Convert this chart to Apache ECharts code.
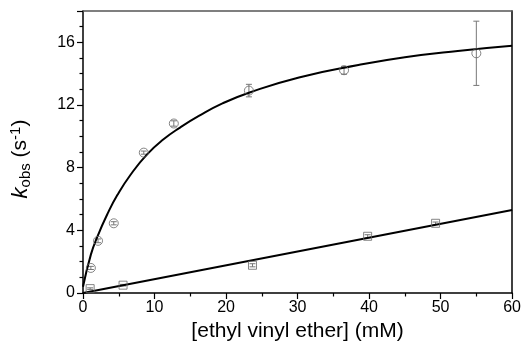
<!DOCTYPE html>
<html><head><meta charset="utf-8">
<script src="https://cdn.jsdelivr.net/npm/echarts@6/dist/echarts.min.js"></script>
<style>html,body{margin:0;padding:0;background:#fff}#c{width:524px;height:347px}</style>
</head><body><div id="c"></div>
<script>
// circles: [x, y, err]
const circlePts = [[1.1,1.6,0.1],[2.1,3.33,0.12],[4.3,4.45,0.1],[8.5,8.96,0.1],[12.7,10.82,0.17],[23.2,12.92,0.4],[36.5,14.22,0.25],[55.0,15.3,2.05]];
// squares: [x, y, err]
const squarePts = [[1.0,0.28,0.05],[5.6,0.5,0.05],[23.7,1.77,0.1],[39.8,3.62,0.1],[49.3,4.45,0.08]];
// fitted curve
const curvePts = [[0,0.4],[1.1,2.45],[2.03,3.62],[3.42,5.05],[4.8,6.25],[6.65,7.55],[8.96,8.85],[11.26,9.81],[13.57,10.56],[16.2,11.3],[19.5,12.1],[23.3,12.8],[30.2,13.76],[38.5,14.55],[45,15.05],[52.4,15.45],[60,15.78]];
// linear fit
const linePts = [[0,0],[60,5.3]];
const xTicks = {min:0,max:60,interval:10};
const yTicks = {min:0,max:18,interval:4};

const chart = echarts.init(document.getElementById('c'));
const font = 'Liberation Sans, Arial, sans-serif';
function errSeries(data){
  return {type:'custom', data:data, z:3, renderItem:function(params, api){
    const x=api.value(0), y=api.value(1), e=api.value(2);
    const top=api.coord([x,y+e]), bot=api.coord([x,y-e]);
    const w=3;
    return {type:'group', children:[
      {type:'line', shape:{x1:top[0],y1:top[1],x2:bot[0],y2:bot[1]}, style:{stroke:'#777',lineWidth:1}},
      {type:'line', shape:{x1:top[0]-w,y1:top[1],x2:top[0]+w,y2:top[1]}, style:{stroke:'#777',lineWidth:1}},
      {type:'line', shape:{x1:bot[0]-w,y1:bot[1],x2:bot[0]+w,y2:bot[1]}, style:{stroke:'#777',lineWidth:1}}
    ]};
  }, encode:{x:0,y:1}};
}
chart.setOption({
  animation:false,
  grid:{left:82,right:9,top:11,bottom:54},
  xAxis:[{type:'value',min:xTicks.min,max:xTicks.max,interval:xTicks.interval,
    name:'[ethyl vinyl ether] (mM)',nameLocation:'middle',nameGap:22,
    nameTextStyle:{fontSize:21,color:'#000',fontFamily:font,verticalAlign:'top'},
    axisLine:{lineStyle:{color:'#000',width:1.5}},
    axisTick:{inside:false,length:6,lineStyle:{color:'#000',width:1.2}},
    minorTick:{show:true,splitNumber:2,length:3.5,lineStyle:{color:'#000',width:1.2}},
    axisLabel:{fontSize:16,color:'#000',fontFamily:font,margin:7},
    splitLine:{show:false}},
   {type:'value',position:'top',min:0,max:60,axisLine:{onZero:false,lineStyle:{color:'#555',width:1.5}},axisTick:{show:false},axisLabel:{show:false},splitLine:{show:false}}],
  yAxis:[{type:'value',min:yTicks.min,max:yTicks.max,interval:yTicks.interval,
    name:'{i|k}{sub|obs} (s{sup|-1})',nameLocation:'middle',nameGap:50,nameRotate:90,
    nameTextStyle:{fontSize:21,color:'#000',fontFamily:font,padding:[0,14,0,0],rich:{
      i:{fontSize:22,fontStyle:'italic',fontFamily:font,color:'#000'},
      sub:{fontSize:15,fontFamily:font,color:'#000',verticalAlign:'bottom',padding:[10,0,0,0]},
      sup:{fontSize:15,fontFamily:font,color:'#000',verticalAlign:'top',padding:[0,0,10,0]}}},
    axisLine:{show:true,lineStyle:{color:'#000',width:1.5}},
    axisTick:{show:true,length:6,lineStyle:{color:'#000',width:1.2}},
    minorTick:{show:true,splitNumber:4,length:3.5,lineStyle:{color:'#000',width:1.2}},
    axisLabel:{fontSize:16,color:'#000',fontFamily:font,margin:8,showMaxLabel:false},
    splitLine:{show:false}},
   {type:'value',position:'right',min:0,max:18,axisLine:{show:true,onZero:false,lineStyle:{color:'#000',width:1.5}},axisTick:{show:false},axisLabel:{show:false},splitLine:{show:false}}],
  series:[
    {type:'line',data:curvePts,smooth:0.5,showSymbol:false,lineStyle:{color:'#000',width:2},z:4},
    {type:'line',data:linePts,showSymbol:false,lineStyle:{color:'#000',width:2},z:4},
    errSeries(circlePts),
    errSeries(squarePts),
    {type:'scatter',data:circlePts.map(p=>[p[0],p[1]]),symbol:'circle',symbolSize:9,
      itemStyle:{color:'rgba(0,0,0,0)',borderColor:'#666',borderWidth:1},z:5},
    {type:'scatter',data:squarePts.map(p=>[p[0],p[1]]),symbol:'rect',symbolSize:8,
      itemStyle:{color:'rgba(0,0,0,0)',borderColor:'#666',borderWidth:1},z:5}
  ]
});
</script></body></html>
